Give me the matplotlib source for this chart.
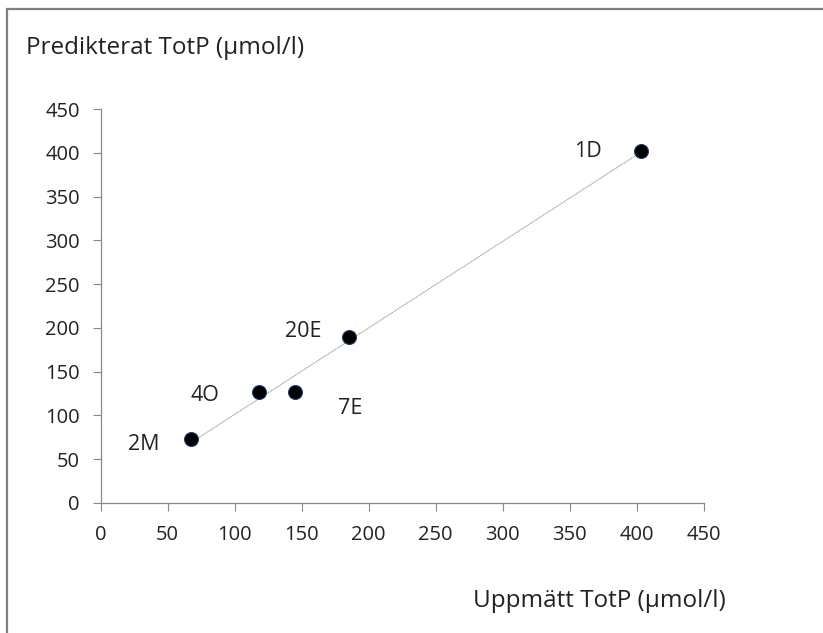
import numpy as np
import matplotlib
matplotlib.use("Agg")
import matplotlib.pyplot as plt
from matplotlib.patches import Rectangle

# data
sites = ["2M", "4O", "7E", "20E", "1D"]
measured = [67, 118, 145, 185, 403]
predicted = [73, 127, 127, 190, 402]
label_offsets = [(-34, -4), (-39, -3), (40, -12), (-33, 4), (-38, 0)]
ticks = [0, 50, 100, 150, 200, 250, 300, 350, 400, 450]

plt.rcParams["font.family"] = ["Open Sans", "DejaVu Sans"]

fig = plt.figure(figsize=(8.23, 6.33), dpi=100)
ax = fig.add_axes([0.1224, 0.2054, 0.7326, 0.6224])

# frame around the whole chart (cut off at right/bottom)
fig.patches.append(Rectangle((6.5 / 823, -0.1), 1.2, 1 - 9.5 / 633 + 0.1,
                             transform=fig.transFigure, fill=False,
                             edgecolor="#7f7f7f", linewidth=1.6))

# trend line
k, m = np.polyfit(measured, predicted, 1)
xs = np.array([min(measured), max(measured)])
ax.plot(xs, k * xs + m, color="#9a9a9a", linewidth=0.8, linestyle=(0, (1, 0.6)))

ax.plot(measured, predicted, "o", color="black", markeredgecolor="#1f3b6e",
        markeredgewidth=0.8, markersize=10, zorder=3)

for s, x, y, off in zip(sites, measured, predicted, label_offsets):
    ax.annotate(s, (x, y), xytext=off, textcoords="offset points",
                ha="center", va="center", fontsize=15.5, color="#222222")

ax.set_xlim(0, 450)
ax.set_ylim(0, 450)
ax.set_xticks(ticks)
ax.set_yticks(ticks)
ax.tick_params(axis="both", length=6, width=0.8, color="#888888",
               labelsize=14.5, labelcolor="#222222")
ax.tick_params(axis="x", pad=10)
ax.tick_params(axis="y", pad=9)
for side in ["top", "right"]:
    ax.spines[side].set_visible(False)
for side in ["left", "bottom"]:
    ax.spines[side].set_color("#888888")
    ax.spines[side].set_linewidth(0.9)

fig.text(26 / 823, 1 - 48 / 633, "Predikterat TotP (\u00b5mol/l)",
         fontsize=17.5, color="#222222", ha="left", va="center")
fig.text(726 / 823, 1 - 601 / 633, "Uppm\u00e4tt TotP (\u00b5mol/l)",
         fontsize=17.5, color="#222222", ha="right", va="center")

fig.savefig("out.png", dpi=100)
